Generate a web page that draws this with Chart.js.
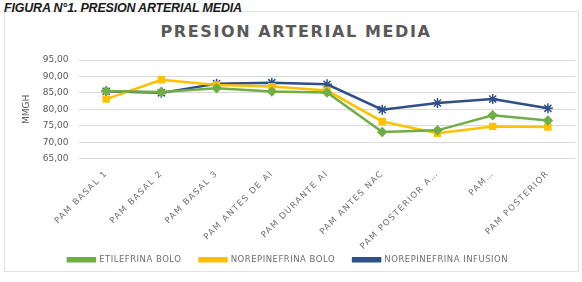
<!DOCTYPE html>
<html>
<head>
<meta charset="utf-8">
<script src="https://cdn.jsdelivr.net/npm/chart.js@4.4.1/dist/chart.umd.min.js"></script>
<style>
  html, body { margin: 0; padding: 0; background: #fff; }
  body { width: 582px; height: 282px; position: relative; overflow: hidden; }
  #fig { position: absolute; left: 4px; top: 1px; font-family: "Liberation Sans Narrow", "Liberation Sans", Arial, sans-serif;
         font-weight: bold; font-style: italic; font-size: 12.5px; color: #1a1a1a; letter-spacing: -0.2px; }
  #frame { position: absolute; left: 4px; top: 11px; width: 573px; height: 259px; border: 1px solid #e2e2e2; }
  #title { position: absolute; left: 0; width: 592px; top: 22px; text-align: center; font-family: "DejaVu Sans", sans-serif;
           font-weight: bold; font-size: 16px; letter-spacing: 1.6px; color: #595959; }
  #wrap { position: absolute; left: 0; top: 0; width: 582px; height: 282px; }
</style>
</head>
<body>
<div id="frame"></div>
<div id="fig">FIGURA N°1. PRESION ARTERIAL MEDIA</div>
<div id="title">PRESION ARTERIAL MEDIA</div>
<div id="wrap"><canvas id="chartPam"></canvas></div>
<script>
// etiquetas del eje X (tal como se ven, truncadas)
const categorias = ['PAM BASAL 1', 'PAM BASAL 2', 'PAM BASAL 3', 'PAM ANTES DE AI', 'PAM DURANTE AI',
  'PAM ANTES NAC', 'PAM POSTERIOR A…', 'PAM…', 'PAM POSTERIOR'];

const etilefrinaBolo = [85.6, 85.3, 86.4, 85.4, 85.1, 73.1, 73.6, 78.2, 76.6];
const norepinefrinaBolo = [83.1, 89.0, 87.4, 86.9, 85.7, 76.3, 72.7, 74.8, 74.6];
const norepinefrinaInfusion = [85.5, 85.0, 87.8, 88.1, 87.6, 79.9, 81.9, 83.1, 80.3];

const gris = '#595959';

// texto espaciado en el eje X y la leyenda (como en Excel)
const espaciado = {
  id: 'espaciado',
  beforeLayout(chart) {
    [[chart.scales.x, '1.3px'], [chart.legend, '0.5px']].forEach(([box, ls]) => {
      if (!box || box._espaciado) return;
      box._espaciado = true;
      // las etiquetas del eje X pueden salir de su caja
      if (box === chart.scales.x) box._computeLabelArea = () => undefined;
      ['update', 'draw'].forEach(fn => {
        const orig = box[fn];
        box[fn] = function (...args) {
          const c = this.ctx;
          c.save();
          c.letterSpacing = ls;
          const r = orig.apply(this, args);
          c.restore();
          return r;
        };
      });
    });
  }
};

const ctxPam = document.getElementById('chartPam').getContext('2d');
new Chart(ctxPam, {
  type: 'line',
  data: {
    labels: categorias,
    datasets: [{
      label: 'ETILEFRINA BOLO',
      data: etilefrinaBolo,
      borderColor: '#70ad47',
      backgroundColor: '#70ad47',
      borderWidth: 2.5,
      pointStyle: 'rectRot',
      pointRadius: 3.5,
      pointHoverRadius: 3.5
    }, {
      label: 'NOREPINEFRINA BOLO',
      data: norepinefrinaBolo,
      borderColor: '#ffc000',
      backgroundColor: '#ffc000',
      borderWidth: 2.5,
      pointStyle: 'rect',
      pointRadius: 3.5,
      pointHoverRadius: 3.5
    }, {
      label: 'NOREPINEFRINA INFUSION',
      data: norepinefrinaInfusion,
      borderColor: '#2f4f86',
      backgroundColor: '#2f4f86',
      borderWidth: 2.5,
      pointStyle: 'star',
      pointRadius: 5,
      pointBorderWidth: 1.5,
      pointHoverRadius: 5
    }]
  },
  options: {
    responsive: true,
    maintainAspectRatio: false,
    animation: false,
    layout: { padding: { top: 60, left: 0, right: 6, bottom: 8 } },
    scales: {
      x: {
        offset: true,
        grid: { display: false },
        border: { display: false },
        afterFit: s => { s.height -= 16; },
        ticks: {
          color: '#6f6f6f',
          font: { family: 'DejaVu Sans', size: 8.5 },
          maxRotation: 45,
          minRotation: 45,
          autoSkip: false,
          padding: 2
        }
      },
      y: {
        min: 65,
        max: 95,
        grid: { color: '#d9d9d9', drawTicks: false },
        border: { display: false },
        title: { display: true, text: 'MMGH', color: gris, font: { family: 'DejaVu Sans', size: 9 }, padding: { top: 21, bottom: 1 } },
        ticks: {
          stepSize: 5,
          color: gris,
          padding: 10,
          font: { family: 'DejaVu Sans', size: 9 },
          callback: v => v.toFixed(2).replace('.', ',')
        }
      }
    },
    plugins: {
      legend: {
        position: 'bottom',
        labels: {
          color: '#6f6f6f',
          boxWidth: 27,
          boxHeight: 3,
          padding: 18,
          font: { family: 'DejaVu Sans', size: 8.5 }
        }
      },
      tooltip: { enabled: false }
    }
  },
  plugins: [espaciado]
});
</script>
</body>
</html>
